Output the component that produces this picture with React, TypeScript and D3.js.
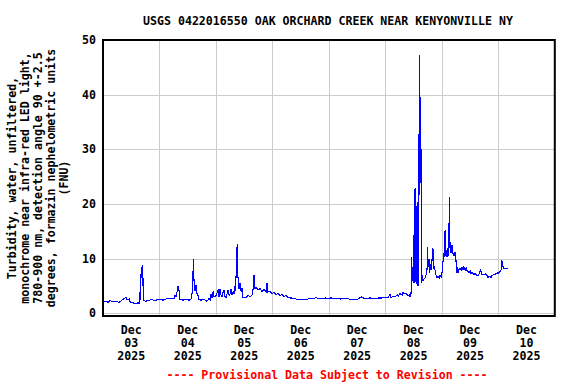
import React from "react";
import * as d3 from "d3";

const TITLE = "USGS 0422016550 OAK ORCHARD CREEK NEAR KENYONVILLE NY";
const Y_TITLE = [
  "Turbidity, water, unfiltered,",
  "monochrome near infra-red LED light,",
  "780-900 nm, detection angle 90 +-2.5",
  "degrees, formazin nephelometric units",
  "(FNU)",
];
const FOOTER = "---- Provisional Data Subject to Revision ----";
const Y_TICKS = [0, 10, 20, 30, 40, 50];
const DAY_LABELS = ["03", "04", "05", "06", "07", "08", "09", "10"];

// hours since 2025-12-03 00:00
const hours = [
  0, 1.3, 2.1, 3.0, 4.3, 5.5, 6.8, 8.1, 8.9, 9.8, 10.2, 11.1, 11.5, 12.8, 14.0, 14.9, 15.4, 15.6, 15.9, 16.2, 16.4, 16.7, 16.9, 17.1, 17.3, 18.3, 19.6, 20.8, 22.1, 23.4,
  24.2, 25.5, 26.8, 28.1, 29.3, 30.2, 30.6, 31.0, 31.5, 31.9, 32.3, 32.7, 34.0, 35.3, 36.6, 37.4, 37.8, 38.1, 38.4, 38.6, 38.8, 39.1, 39.5, 40.0, 40.4, 40.8, 41.7, 42.5, 43.4, 44.2, 45.1, 45.5, 45.9, 46.3, 46.8, 47.2, 48.0,
  48.9, 49.3, 49.7, 50.2, 50.6, 51.0, 51.4, 51.9, 52.3, 52.7, 53.1, 53.6, 54.0, 54.4, 54.8, 55.3, 55.7, 55.9, 56.1, 56.3, 56.5, 56.8, 57.0, 57.2, 57.5, 57.8, 58.2, 58.7, 59.1, 59.3, 59.9, 60.8, 61.6, 62.5, 63.3, 63.8, 64.2, 64.4, 64.6, 65.0, 65.9, 66.7, 67.6, 68.4, 69.3, 69.7, 70.1, 71.0, 71.8,
  72.7, 73.5, 74.4, 75.2, 76.1, 76.9, 77.8, 78.6, 79.5, 80.3, 81.2, 82.0, 82.9, 83.7, 84.6, 85.9, 87.1, 88.0, 88.8, 89.7, 90.5, 91.4, 92.2, 93.1, 94.4, 95.6,
  96.9, 98.2, 99.5, 100.7, 102.0, 103.3, 104.6, 105.8, 107.1, 108.4, 109.2, 110.1, 110.9, 112.2, 113.5, 114.8, 116.0, 117.3, 118.6, 119.9,
  121.1, 122.0, 122.4, 123.3, 124.1, 125.0, 125.4, 126.2, 127.1, 127.5, 127.9, 128.8, 129.6, 130.1, 130.5, 130.9, 131.2, 131.4, 131.6, 131.8, 132.1, 132.3, 132.5, 132.7, 132.9, 133.1, 133.3, 133.5, 133.8, 134.0, 134.2, 134.4, 134.7, 134.9, 135.1, 135.3, 135.6, 136.0, 136.4, 136.9, 137.3, 137.7, 137.9, 138.1, 138.6, 138.8, 139.0, 139.4, 139.8, 140.1, 140.4, 140.7, 141.1, 141.5, 142.0, 142.4, 142.8, 143.2, 143.7,
  144.1, 144.5, 144.9, 145.2, 145.4, 145.7, 146.0, 146.2, 146.6, 146.9, 147.2, 147.4, 147.7, 147.9, 148.3, 148.7, 149.2, 149.6, 150.0, 150.3, 150.7, 150.9, 151.3, 151.7, 152.2, 152.6, 153.0, 153.4, 153.9, 154.3, 154.7, 155.1, 155.6, 156.0, 156.4, 156.8, 157.7, 158.1, 158.6, 159.0, 159.4, 159.8, 160.5, 160.9, 161.5, 162.4, 163.2, 163.6, 164.5, 164.9, 165.3, 166.2, 167.0, 167.5, 167.9,
  168.3, 168.7, 169.2, 169.5, 169.8, 170.0, 170.4, 171.3, 172.1,
];

const turbidity = [
  2.1, 2.2, 2.0, 2.3, 2.1, 2.2, 2.0, 2.4, 2.7, 2.9, 2.5, 2.6, 2.1, 1.9, 1.8, 1.9, 1.8, 3.9, 2.5, 7.5, 8.0, 8.8, 5.0, 6.5, 2.3, 2.2, 2.4, 2.5, 2.3, 2.6,
  2.5, 2.4, 2.6, 2.8, 2.6, 2.7, 3.3, 3.0, 4.0, 4.9, 4.2, 2.5, 2.4, 2.5, 2.4, 2.6, 3.5, 4.5, 9.9, 6.7, 5.0, 4.0, 5.2, 3.5, 3.2, 2.5, 2.4, 2.6, 2.4, 2.2, 2.7, 2.4, 3.5, 2.8, 4.0, 3.0, 3.2,
  4.2, 3.0, 4.5, 3.2, 3.0, 3.8, 4.2, 3.0, 2.8, 3.5, 4.3, 3.2, 3.6, 4.5, 3.3, 4.0, 3.5, 4.5, 5.0, 4.0, 6.5, 8.3, 12.7, 8.0, 5.5, 4.5, 5.5, 4.0, 4.7, 3.0, 2.8, 2.9, 3.3, 3.0, 3.3, 4.5, 7.0, 5.5, 4.5, 4.7, 4.3, 4.5, 4.0, 4.4, 3.9, 5.6, 3.9, 4.0, 3.6,
  3.8, 3.4, 3.6, 3.3, 3.4, 3.1, 3.2, 2.9, 2.8, 2.8, 2.7, 2.6, 2.5, 2.5, 2.6, 2.5, 2.6, 2.7, 2.8, 2.7, 2.9, 2.7, 2.8, 2.7, 2.8, 2.7,
  2.8, 2.7, 2.8, 2.6, 2.7, 2.7, 2.6, 2.5, 2.6, 2.6, 2.9, 3.0, 2.7, 2.7, 2.8, 2.7, 2.7, 2.8, 2.8, 2.9,
  2.9, 3.5, 2.9, 3.1, 3.0, 3.4, 3.1, 3.6, 3.3, 3.9, 3.5, 3.7, 3.2, 3.4, 3.0, 3.5, 10.3, 6.0, 8.5, 5.5, 7.0, 22.8, 5.5, 22.9, 7.0, 5.3, 15.6, 20.4, 5.0, 32.8, 5.0, 47.2, 30.0, 39.6, 33.0, 5.5, 7.0, 6.0, 6.3, 6.5, 7.0, 8.0, 12.2, 8.5, 10.0, 7.4, 9.0, 8.0, 9.5, 11.9, 11.5, 8.0, 7.9, 7.0, 6.5, 6.8, 6.4, 7.0, 6.6,
  7.5, 9.6, 10.3, 14.7, 15.2, 10.5, 11.6, 10.3, 12.0, 10.5, 21.3, 12.0, 13.0, 11.0, 12.5, 11.0, 10.5, 11.2, 9.7, 7.4, 8.5, 7.4, 8.0, 8.2, 7.9, 8.4, 8.0, 8.5, 7.9, 8.3, 7.8, 7.7, 7.4, 7.8, 7.2, 7.5, 7.0, 7.3, 7.0, 6.9, 6.8, 7.2, 7.9, 7.1, 7.0, 7.2, 6.9, 6.6, 6.8, 6.5, 6.9, 7.1, 7.2, 7.4, 7.2,
  7.6, 7.5, 8.0, 9.7, 8.4, 8.6, 8.1, 8.2, 8.2,
];

const START = Date.UTC(2025, 11, 3);
const END = Date.UTC(2025, 11, 11);
const HOUR = 3600 * 1000;

export default function App() {
  const W = 576, H = 384;
  const left = 103, right = 554.8, top = 40, bottom = 316;
  const x = d3.scaleUtc().domain([new Date(START), new Date(END)]).range([left, right]);
  const y = d3.scaleLinear().domain([-0.5, 50]).range([bottom, top]);
  const data = hours.map((h, i) => ({ t: new Date(START + h * HOUR), v: turbidity[i] }));
  const line = d3.line<{ t: Date; v: number }>().x((d) => x(d.t)).y((d) => y(d.v));
  const days = d3.utcDay.range(new Date(START), new Date(END));
  const font = "'DejaVu Sans Mono', monospace";
  const fs = 11.6;

  return (
    <svg width={W} height={H} style={{ position: "absolute", left: 0, top: 0, background: "#fff" }} fontFamily={font} fontWeight="bold">
      <rect x={0} y={0} width={W} height={H} fill="#fff" />
      {/* grid */}
      {Y_TICKS.slice(0, -1).map((t) => (
        <line key={"gy" + t} x1={left} x2={right} y1={Math.round(y(t)) + 0.5} y2={Math.round(y(t)) + 0.5} stroke="#cccccc" strokeWidth={1} />
      ))}
      {days.slice(1).map((d, i) => (
        <line key={"gx" + i} x1={Math.round(x(d)) + 0.5} x2={Math.round(x(d)) + 0.5} y1={top} y2={bottom} stroke="#cccccc" strokeWidth={1} />
      ))}
      {/* data */}
      <path d={line(data) || ""} fill="none" stroke="#0000ff" strokeWidth={1.1} shapeRendering="crispEdges" />
      {/* frame */}
      <rect x={left} y={top} width={right - left} height={bottom - top} fill="none" stroke="#000" strokeWidth={2} />
      {/* y labels */}
      {Y_TICKS.map((t) => (
        <text key={"yl" + t} x={96} y={y(t)} dy="0.35em" textAnchor="end" fontSize={fs}>{t}</text>
      ))}
      {/* x labels */}
      {days.map((d, i) => {
        const cx = x(new Date(d.getTime() + 12 * HOUR));
        return (
          <text key={"xl" + i} x={cx} textAnchor="middle" fontSize={fs}>
            <tspan x={cx} y={334}>Dec</tspan>
            <tspan x={cx} y={347}>{DAY_LABELS[i]}</tspan>
            <tspan x={cx} y={360}>2025</tspan>
          </text>
        );
      })}
      {/* title */}
      <text x={328} y={24.5} textAnchor="middle" fontSize={fs}>{TITLE}</text>
      {/* y title */}
      <text transform={`translate(0,${(top + bottom) / 2}) rotate(-90)`} textAnchor="middle" fontSize={fs}>
        {Y_TITLE.map((s, i) => (
          <tspan key={i} x={0} y={16 + i * 12.9}>{s}</tspan>
        ))}
      </text>
      {/* footer */}
      <text x={327} y={379} textAnchor="middle" fontSize={fs} fill="#ff0000">{FOOTER}</text>
    </svg>
  );
}
